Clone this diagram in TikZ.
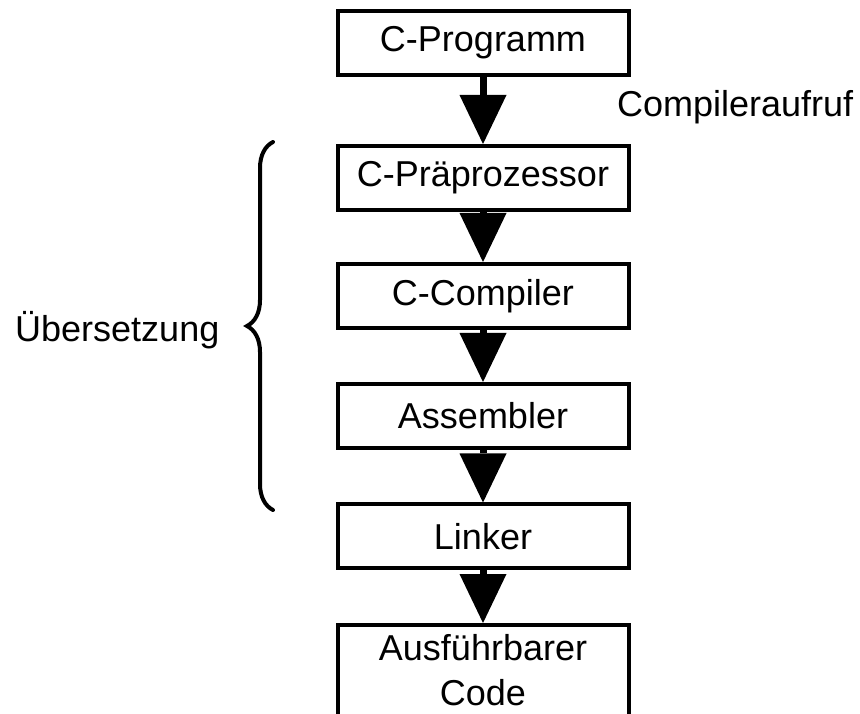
\documentclass[tikz,border=0pt]{standalone}
\usepackage{fontspec}
\setmainfont{Liberation Sans}
\usetikzlibrary{arrows.meta,positioning,decorations.pathreplacing}

\begin{document}
\begin{tikzpicture}[
  x=1pt, y=1pt,
  stage/.style={rectangle, draw, line width=4pt, minimum width=291pt, minimum height=64pt,
                font=\fontsize{36}{45}\selectfont, inner sep=0pt},
  flow/.style={-{Triangle[length=49pt,width=47pt,line width=0pt]}, line width=7pt},
  caption/.style={font=\fontsize{36}{45}\selectfont, inner sep=0pt}
]
  \useasboundingbox (0,0) rectangle (860,713);

  % processing chain
  \foreach \name/\y/\txt in {prog/670/C-Programm, prep/535/C-Präprozessor,
                             comp/417/C-Compiler, asm/297/Assembler, link/176.5/Linker}
    \node[stage] (\name) at (483, \y) {\txt};
  \node[stage, minimum height=91pt, align=center] (exe) at (483, 42.5) {Ausführbarer\\Code};

  \foreach \a/\b in {prog/prep, prep/comp, comp/asm, asm/link, link/exe}
    \draw[flow] (\a) -- (\b);

  \node[caption, anchor=base west] (call) at (617, 596) {Compileraufruf};

  % brace over the translation steps
  \coordinate (br-bot) at (273, 203);
  \coordinate (br-top) at (273, 571);
  \draw[decorate, decoration={brace, amplitude=26pt}, line width=4pt, line cap=round]
    (br-bot) -- (br-top);
  \node[caption, anchor=base west] (trans) at (15, 371) {Übersetzung};
\end{tikzpicture}
\end{document}
